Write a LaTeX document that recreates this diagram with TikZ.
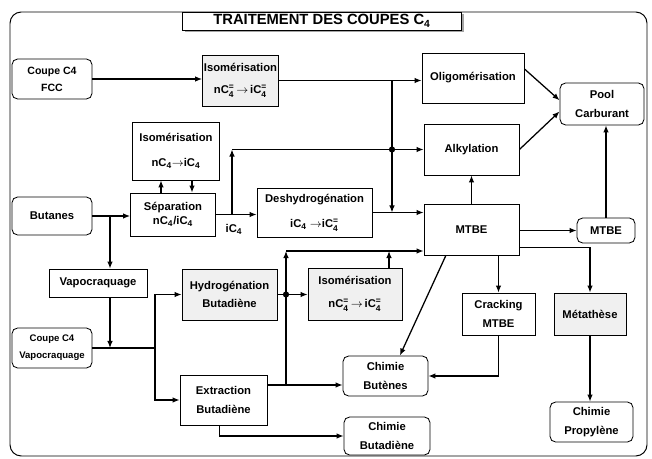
\documentclass[tikz,border=0pt]{standalone}
\usepackage{fontspec}
\usepackage{amsmath}
\setmainfont{Liberation Sans}
\usetikzlibrary{arrows.meta,shadows}
\newcommand{\Cq}[1]{C$_{\text{4}}^{\text{#1}}$}

\begin{document}
\begin{tikzpicture}[x=0.025cm,y=-0.025cm,>={Latex[length=5pt,width=4pt]},
	every node/.style={font=\bfseries\fontsize{8}{10}\selectfont,align=center,inner sep=1pt},
	box/.style={draw,line width=0.6pt,fill=white},
	feed/.style={box,rounded corners=4pt},
	grid box/.style={box,fill=black!6},
	flow/.style={line width=0.9pt}
]
\useasboundingbox (0,0) rectangle (652,459);
\draw[line width=0.7pt,rounded corners=8pt] (10,12) rectangle (647,456);
\node[box,drop shadow={shadow xshift=1.5pt,shadow yshift=-1.5pt,fill=black!70},
	font=\bfseries\fontsize{10.5}{12}\selectfont,minimum width=6.975cm,minimum height=0.45cm]
	(title) at (322,21) {TRAITEMENT DES COUPES C$_{\text{4}}$};

% sources
\node[feed,minimum width=2cm,minimum height=1cm,font=\bfseries\fontsize{7.5}{9}\selectfont] (fcc) at (52,79) {Coupe C4\\[3pt]FCC};
\node[feed,minimum width=2cm,minimum height=0.95cm] (but) at (52,216) {Butanes};
\node[feed,minimum width=2cm,minimum height=1cm,font=\bfseries\fontsize{6.8}{9}\selectfont] (cvap) at (52,348) {Coupe C4\\[3pt]Vapocraquage};

% procedes
\node[grid box,minimum width=1.875cm,minimum height=1.275cm] (isoA) at (240.5,80.5) {Isomérisation\\[6pt]n\Cq{=}\,$\rightarrow$\,i\Cq{=}};
\node[box,minimum width=2.55cm,minimum height=1.25cm] (oligo) at (473,78) {Oligomérisation};
\node[box,minimum width=2.375cm,minimum height=1.275cm] (alky) at (471.5,149.5) {Alkylation};
\node[box,minimum width=2.175cm,minimum height=1.45cm] (isoB) at (176,151) {Isomérisation\\[8pt]nC$_{\text{4}}$$\rightarrow$iC$_{\text{4}}$};
\node[box,minimum width=2.125cm,minimum height=1.075cm] (sep) at (173,214.5) {Séparation\\nC$_{\text{4}}$/iC$_{\text{4}}$};
\node[box,minimum width=2.875cm,minimum height=1.225cm] (deshy) at (314.5,212.5) {Deshydrogénation\\[8pt]iC$_{\text{4}}$ $\rightarrow$i\Cq{=}};
\node[box,minimum width=2.375cm,minimum height=1.275cm] (mtbe) at (471.5,229.5) {MTBE};
\node[box,minimum width=2.45cm,minimum height=0.7cm] (vapo) at (98,283) {Vapocraquage};
\node[grid box,minimum width=2.375cm,minimum height=1.275cm] (hydro) at (229.5,294.5) {Hydrogénation\\[3pt]Butadiène};
\node[grid box,minimum width=2.35cm,minimum height=1.3cm] (isoC) at (355,294) {Isomérisation\\[6pt]n\Cq{=}\,$\rightarrow$\,i\Cq{=}};
\node[box,minimum width=2.175cm,minimum height=1.25cm] (extr) at (223.5,400) {Extraction\\[3pt]Butadiène};
\node[box,minimum width=1.825cm,minimum height=1.05cm] (crack) at (498.5,314) {Cracking\\[3pt]MTBE};
\node[grid box,minimum width=1.8cm,minimum height=1.05cm] (meta) at (590,314) {Métathèse};

% produits
\node[feed,minimum width=2.1cm,minimum height=1.05cm] (pool) at (602,104) {Pool\\[3pt]Carburant};
\node[feed,minimum width=1.45cm,minimum height=0.625cm] (mtbeB) at (606,230.5) {MTBE};
\node[feed,minimum width=2.125cm,minimum height=1cm] (cbut) at (385.5,376) {Chimie\\[3pt]Butènes};
\node[feed,minimum width=2.15cm,minimum height=0.95cm] (cbd) at (387,436) {Chimie\\[3pt]Butadiène};
\node[feed,minimum width=2.075cm,minimum height=1cm] (cprop) at (591.5,422) {Chimie\\[3pt]Propylène};
\node (lic) at (234,229) {iC$_{\text{4}}$};

% points de branchement
\coordinate (v1) at (392,80.5);
\coordinate (k1) at (232,149.5);
\coordinate (k2) at (110,216);
\coordinate (k3) at (155,348);
\coordinate (k5) at (286,251);
\coordinate (e1) at ([yshift=0.375cm]extr.east);

% liaisons
\draw[flow,->] (fcc.east) -- (fcc.east -| isoA.west);
\draw[flow,->] (isoA.east) -- (isoA.east -| oligo.west);
\draw[flow,->] (v1) -- (v1 |- deshy.east);
\draw[flow,->] (sep.east) -- (sep.east -| deshy.west);
\draw[flow,->] (sep.east -| k1) -- (k1);
\draw[flow,->] (k1) -- (alky.west);
\fill (v1 |- alky.west) circle (2.2pt);
\draw[flow,->] (deshy.east) -- (deshy.east -| mtbe.west);
\draw[flow,->] (oligo.10) -- (pool.175);
\draw[flow,->] (alky.east) -- (pool.190);
\draw[flow,->] (mtbe.north) -- (alky.south);
\draw[flow,->] (mtbeB.north) -- (mtbeB.north |- pool.south);
\draw[flow,->] (mtbe.east |- mtbeB.west) -- (mtbeB.west);
\draw[flow,->] ([yshift=0.2cm]mtbe.south east) -| (meta.north);
\draw[flow,->] (crack.north |- mtbe.south) -- (crack.north);
\draw[flow,->] (crack.south) |- (cbut.east);
\draw[flow,->] ([xshift=-0.64cm]mtbe.south) -- ([xshift=0.36cm]cbut.north);
\draw[flow,->] (meta.south) -- (meta.south |- cprop.north);
\draw[flow,->] ([xshift=-0.3cm]sep.north) -- ([xshift=-0.3cm]sep.north |- isoB.south);
\draw[flow,->] ([xshift=0.4cm]isoB.south) -- ([xshift=0.4cm]isoB.south |- sep.north);
\draw[flow,->] (but.east) -- (but.east -| sep.west);
\draw[flow,->] (k2) -- (k2 |- vapo.north);
\draw[flow,->] (k2 |- vapo.south) -- (k2 |- cvap.east);
\draw[flow] (cvap.east) -- (k3);
\draw[flow,->] (k3) |- (hydro.west);
\draw[flow,->] (k3) |- (extr.west);
\draw[flow,->] (hydro.east) -- (hydro.east -| isoC.west);
\fill (k5 |- hydro.east) circle (2.2pt);
\draw[flow,->] (e1) -- (e1 -| cbut.west);
\draw[flow,->] (e1 -| k5) -- (k5);
\draw[flow,->] (k5) -- (k5 -| mtbe.west);
\draw[flow,->] ([xshift=0.85cm]isoC.north) -- ([xshift=0.85cm]isoC.north |- k5);
\draw[flow,->] ([xshift=-0.1cm]extr.south) |- (cbd.west);
\end{tikzpicture}
\end{document}
